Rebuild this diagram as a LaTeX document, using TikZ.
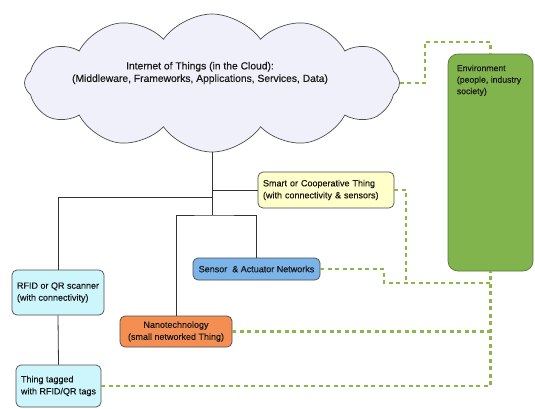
\documentclass[tikz,border=0pt]{standalone}
\usepackage{fontspec}
\setmainfont{Liberation Sans}[FakeBold=0.5]
\usepackage{tikz}
\usetikzlibrary{shapes.symbols,positioning}

\definecolor{cloudfill}{RGB}{240,240,250}
\definecolor{smartfill}{RGB}{255,255,202}
\definecolor{sensorfill}{RGB}{122,180,232}
\definecolor{nanofill}{RGB}{245,142,82}
\definecolor{tagfill}{RGB}{205,245,252}
\definecolor{envfill}{RGB}{130,180,78}
\definecolor{envline}{RGB}{88,118,58}
\definecolor{linkgreen}{RGB}{140,182,76}

\begin{document}
\begin{tikzpicture}[x=1pt, y=-1pt,
        box/.style = {draw=black!70, line width=0.7pt, rounded corners=5pt, inner xsep=5pt, inner ysep=2pt, text=black!90, font=\fontsize{9}{12}\selectfont},
        wire/.style = {draw=black!80, line width=0.8pt},
        link/.style = {draw=linkgreen, line width=2.2pt, dash pattern=on 4pt off 3.5pt}]
        
            \useasboundingbox (0,0) rectangle (535,408);
        
            \node[cloud, draw=black!70, fill=cloudfill, line width=0.7pt, cloud puffs=12, cloud puff arc=110, cloud ignores aspect, minimum width=375pt, minimum height=138pt] (cloud) at (212,83) {};
            \node[align=center, text=black!90, font=\fontsize{10.3}{12.5}\selectfont] (cloudtext) at (200,73) {Internet of Things (in the Cloud):\\(Middleware, Frameworks, Applications, Services, Data)};
        
            \node[box, fill=smartfill, text width=126pt, minimum height=36pt, align=left] (smart) at (326,190) {Smart or Cooperative Thing\\(with connectivity \& sensors)};
            \node[box, fill=sensorfill, minimum width=127pt, minimum height=22pt] (sensor) at (256.5,269) {Sensor\ \ \& Actuator Networks};
            \node[box, fill=tagfill, minimum width=92pt, minimum height=45pt, align=left] (rfid) at (58,292.5) {RFID or QR scanner\\(with connectivity)};
            \node[box, fill=nanofill, minimum width=112pt, minimum height=31pt, align=center] (nano) at (176,331.5) {Nanotechnology\\(small networked Thing)};
            \node[box, fill=tagfill, minimum width=83pt, minimum height=42pt, align=left] (tagged) at (58.5,386) {Thing tagged\\with RFID/QR tags};
            \node[box, fill=envfill, draw=envline, rounded corners=10pt, minimum width=85pt, minimum height=217pt] (env) at (490.5,162.5) {};
            \node[anchor=north west, inner sep=0pt, align=left, text=black!90, font=\fontsize{8.7}{11.5}\selectfont] (envtext) at ([shift={(9,11)}]env.north west) {Environment\\(people, industry\\society)};
        
            \coordinate (hub) at (212,215);
            \coordinate (split) at (212,197);
            \coordinate (envtop) at (490.5,42);
            \coordinate (bus) at (490.5,283);
        
            \draw[wire] (cloud.south) -- (hub);
            \draw[wire] (cloud.south |- smart.west) -- (smart.west);
            \draw[wire] (split) -| (rfid.north);
            \draw[wire] (nano.north) |- (hub) -| (sensor.north);
            \draw[wire] (rfid.south) -- (tagged.north);
        
            \draw[link] (cloud.east) -- ++(25,0) |- (envtop) -- (env.north);
            \draw[link] (smart.east) -- ++(12,0) -- ++(0,93);
            \draw[link] (sensor.east) -- ++(64,0) |- (bus);
            \draw[link] (nano.east) -- (nano.east -| env.south);
            \draw[link] (tagged.east) -| (env.south);
            
\end{tikzpicture}
\end{document}
